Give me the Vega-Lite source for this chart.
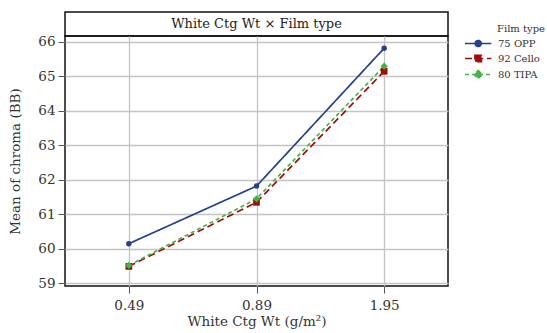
{
  "$schema": "https://vega.github.io/schema/vega-lite/v6.json",
  "background": "white",
  "padding": {"left": 8, "top": 11, "right": 0, "bottom": 0},
  "spacing": 0,
  "bounds": "flush",
  "datasets": {
    "means": [
      {"wt": "0.49", "film": "75 OPP", "mean": 60.15},
      {"wt": "0.89", "film": "75 OPP", "mean": 61.82},
      {"wt": "1.95", "film": "75 OPP", "mean": 65.82},
      {"wt": "0.49", "film": "92 Cello", "mean": 59.49},
      {"wt": "0.89", "film": "92 Cello", "mean": 61.35},
      {"wt": "1.95", "film": "92 Cello", "mean": 65.15},
      {"wt": "0.49", "film": "80 TIPA", "mean": 59.52},
      {"wt": "0.89", "film": "80 TIPA", "mean": 61.45},
      {"wt": "1.95", "film": "80 TIPA", "mean": 65.30}
    ],
    "strip": [{"label": "White Ctg Wt × Film type"}]
  },
  "config": {
    "font": "DejaVu Serif",
    "view": {"stroke": "#111", "strokeWidth": 1.5},
    "axis": {
      "labelFont": "DejaVu Serif",
      "labelFontSize": 13.5,
      "labelColor": "#333",
      "titleFont": "DejaVu Serif",
      "titleFontSize": 13.5,
      "titleFontWeight": "normal",
      "titleColor": "#333",
      "gridColor": "#c4c4c4",
      "gridWidth": 1.3,
      "tickColor": "#555",
      "tickSize": 7,
      "domain": false,
      "labelPadding": 3
    },
    "legend": {
      "titleFont": "DejaVu Serif",
      "titleFontSize": 10,
      "titleFontWeight": "normal",
      "titleColor": "#333",
      "labelFont": "DejaVu Serif",
      "labelFontSize": 10,
      "labelColor": "#333",
      "symbolSize": 121,
      "symbolStrokeWidth": 1.6,
      "symbolOpacity": 1,
      "labelOffset": 21,
      "rowPadding": 2,
      "titlePadding": 3,
      "padding": 12,
      "offset": 3
    }
  },
  "vconcat": [
    {
      "width": 383,
      "height": 24,
      "view": {"stroke": null},
      "data": {"name": "strip"},
      "layer": [
        {
          "mark": {"type": "rect", "fill": "white", "stroke": "#111", "strokeWidth": 1.5},
          "encoding": {}
        },
        {
          "mark": {"type": "text", "fontSize": 13, "font": "DejaVu Serif", "color": "#222"},
          "encoding": {"text": {"field": "label"}}
        }
      ]
    },
    {
      "width": 383,
      "height": 250,
      "data": {"name": "means"},
      "encoding": {
        "x": {
          "field": "wt",
          "type": "ordinal",
          "sort": ["0.49", "0.89", "1.95"],
          "scale": {"type": "point", "padding": 0.5},
          "axis": {"labelAngle": 0, "title": "White Ctg Wt (g/m²)", "grid": true, "labelPadding": 5, "titlePadding": 3}
        },
        "y": {
          "field": "mean",
          "type": "quantitative",
          "scale": {"domain": [58.922, 66.174], "nice": false, "zero": false},
          "axis": {"values": [59, 60, 61, 62, 63, 64, 65, 66], "title": "Mean of chroma (BB)", "titlePadding": 15}
        }
      },
      "layer": [
        {
          "mark": {"type": "line", "strokeWidth": 1.7},
          "encoding": {
            "color": {
              "field": "film",
              "type": "nominal",
              "scale": {"domain": ["75 OPP", "92 Cello", "80 TIPA"], "range": ["#27408c", "#a00c0c", "#45b34a"]},
              "legend": {
                "title": "Film type",
                "encode": {
                  "title": {"update": {"dx": {"value": 33}}},
                  "symbols": {
                    "update": {
                      "shape": {"signal": "datum.value === '75 OPP' ? 'M-1,0H3.8M0.85,0A0.55,0.55,0,1,0,1.95,0A0.55,0.55,0,1,0,0.85,0Z' : datum.value === '92 Cello' ? 'M-1,0H3.8M0.8,-0.6H2V0.6H0.8Z' : 'M-1,0H3.8M1.4,-0.75L2.15,0L1.4,0.75L0.65,0Z'"},
                      "fill": {"scale": "color", "field": "value"}
                    }
                  }
                }
              }
            },
            "strokeDash": {
              "field": "film",
              "type": "nominal",
              "scale": {"domain": ["75 OPP", "92 Cello", "80 TIPA"], "range": [[1, 0], [7, 4], [4, 3]]},
              "legend": {"title": "Film type"}
            }
          }
        },
        {
          "transform": [{"filter": {"field": "film", "equal": "75 OPP"}}],
          "mark": {"type": "point", "shape": "circle", "filled": true, "opacity": 1, "size": 30},
          "encoding": {"color": {"field": "film", "type": "nominal", "legend": null}}
        },
        {
          "transform": [{"filter": {"field": "film", "equal": "92 Cello"}}],
          "mark": {"type": "point", "shape": "square", "filled": true, "opacity": 1, "size": 45},
          "encoding": {"color": {"field": "film", "type": "nominal", "legend": null}}
        },
        {
          "transform": [{"filter": {"field": "film", "equal": "80 TIPA"}}],
          "mark": {"type": "point", "shape": "diamond", "filled": true, "opacity": 1, "size": 55},
          "encoding": {"color": {"field": "film", "type": "nominal", "legend": null}}
        }
      ]
    }
  ]
}
